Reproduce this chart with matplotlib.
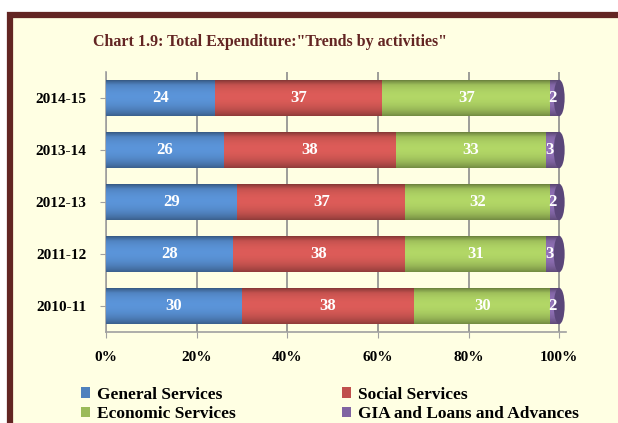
import numpy as np
import matplotlib
matplotlib.use("Agg")
import matplotlib.pyplot as plt
from matplotlib.patches import Rectangle, Ellipse
from matplotlib.colors import to_rgb

years = ["2010-11", "2011-12", "2012-13", "2013-14", "2014-15"]
general = [30, 28, 29, 26, 24]
social = [38, 38, 37, 38, 37]
economic = [30, 31, 32, 33, 37]
gia = [2, 3, 2, 3, 2]

series = [
    ("General Services", general, "#4F81BD"),
    ("Social Services", social, "#C0504D"),
    ("Economic Services", economic, "#9BBB59"),
    ("GIA and Loans and Advances", gia, "#8064A2"),
]

cream = "#FFFFE3"
maroon = "#632523"
serif = "Liberation Serif"

fig = plt.figure(figsize=(6.18, 4.23), dpi=100, facecolor="white")
W, H = 618, 423
# panel with maroon frame on left/top
fig.patches.append(Rectangle((10 / W, -0.1), 1.2, (H - 15) / H + 0.1,
                             transform=fig.transFigure, facecolor=cream,
                             edgecolor=maroon, linewidth=4.5, zorder=-10))

ax = fig.add_axes([106 / W, (H - 332) / H, (566 - 106) / W, 260 / H])
ax.set_facecolor("none")

bar_h = 0.7
y = np.arange(len(years))


def shade(c):
    # vertical cylinder-like gradient (bottom dark -> highlight -> top)
    base = np.array(to_rgb(c))
    t = np.linspace(0, 1, 64)
    f = 0.55 + 0.6 * np.sin(np.pi * np.clip(t * 0.85 + 0.05, 0, 1)) ** 0.6
    f = np.where(t > 0.85, f - (t - 0.85) * 1.5, f)
    img = np.clip(base[None, :] * f[:, None], 0, 1)
    return img[:, None, :]


left = np.zeros(len(years))
handles = []
for name, vals, col in series:
    vals = np.array(vals, dtype=float)
    bars = ax.barh(y, vals, left=left, height=bar_h, color=col,
                   edgecolor="none", zorder=2)
    handles.append(bars)
    for b in bars:
        x0, y0 = b.get_x(), b.get_y()
        im = ax.imshow(shade(col), extent=(x0, x0 + b.get_width(), y0, y0 + bar_h),
                       origin="lower", aspect="auto", zorder=3, interpolation="bilinear")
        im.set_clip_path(b)
    for yi, v, l in zip(y, vals, left):
        ax.text(l + v / 2 - (0.6 if v < 5 else 0), yi, f"{v:.0f}", ha="center", va="center",
                color="white", fontsize=12, fontweight="bold", family=serif, zorder=5)
    left = left + vals

# right end caps
for yi, tot in zip(y, left):
    ax.add_patch(Ellipse((tot, yi), 2.4, bar_h, facecolor="#5A4679",
                         edgecolor="none", zorder=4))

ax.set_xlim(0, 101.5)
ax.set_ylim(-0.5, len(years) - 0.5)
ax.set_xticks([0, 20, 40, 60, 80, 100])
ax.set_xticklabels(["0%", "20%", "40%", "60%", "80%", "100%"])
ax.set_yticks(y)
ax.set_yticklabels(years)
ax.grid(axis="x", color="#8C8C8C", linewidth=1.2, zorder=0)
ax.set_axisbelow(True)
for s in ["top", "right"]:
    ax.spines[s].set_visible(False)
for s in ["left", "bottom"]:
    ax.spines[s].set_color("#A0A0A0")
    ax.spines[s].set_linewidth(1.2)
ax.tick_params(axis="both", colors="#A0A0A0", length=4, labelcolor="black", pad=10)
for lab in ax.get_xticklabels() + ax.get_yticklabels():
    lab.set_family(serif)
    lab.set_fontweight("bold")
    lab.set_fontsize(11)

fig.text(270 / W, 1 - 42 / H, 'Chart 1.9: Total Expenditure:"Trends by activities"',
         ha="center", va="center", color=maroon, fontsize=11.5,
         fontweight="bold", family=serif)

order = [0, 2, 1, 3]
leg = fig.legend([handles[i] for i in order], [series[i][0] for i in order],
                 ncol=2, loc="lower left", bbox_to_anchor=(65 / W, -0.035),
                 frameon=False, handlelength=0.55, handleheight=0.55,
                 handletextpad=0.4, columnspacing=6.1, labelspacing=0.2,
                 prop={"family": serif, "weight": "bold", "size": 12.5})

fig.savefig("out.png", dpi=100, facecolor="white")
